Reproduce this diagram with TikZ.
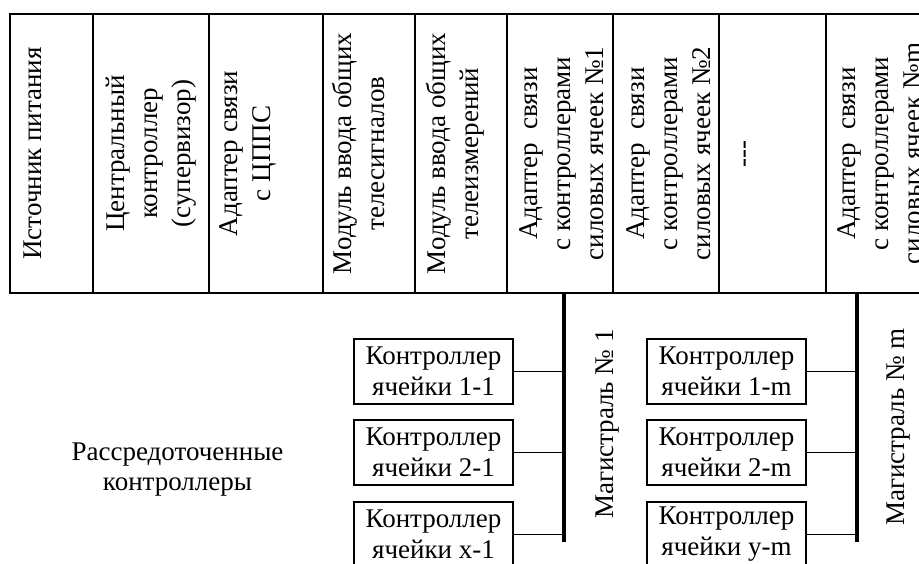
\documentclass[tikz,border=0pt]{standalone}
\usepackage{fontspec}
\setmainfont{Liberation Serif}
\begin{document}
\begin{tikzpicture}[x=1pt,y=-1pt,
  cell/.style={draw,line width=1.2pt,minimum height=279pt,inner sep=0pt},
  coltext/.style={rotate=90,anchor=north,inner sep=0pt,align=center,font=\fontsize{27}{33}\selectfont},
  ctrl/.style={draw,line width=1.2pt,minimum width=159pt,minimum height=65pt,inner sep=0pt,align=center,font=\fontsize{27}{31}\selectfont},
  bus/.style={line width=4pt},
  link/.style={line width=1.2pt},
  lbl/.style={inner sep=0pt,align=center,font=\fontsize{27}{30}\selectfont}]
\useasboundingbox (0,0) rectangle (919,563);
\clip (0,0) rectangle (919,563);
% table cells
\node[cell,minimum width=83pt]  (c1) at (51.5,153.5) {};
\node[cell,minimum width=116pt] (c2) at (151,153.5) {};
\node[cell,minimum width=114pt] (c3) at (266,153.5) {};
\node[cell,minimum width=92pt]  (c4) at (369,153.5) {};
\node[cell,minimum width=92pt]  (c5) at (461,153.5) {};
\node[cell,minimum width=106pt] (c6) at (560,153.5) {};
\node[cell,minimum width=106pt] (c7) at (666,153.5) {};
\node[cell,minimum width=107pt] (c8) at (772.5,153.5) {};
\node[cell,minimum width=106pt] (c9) at (879,153.5) {};
% column texts
\node[coltext] (t1) at ([xshift=14pt]c1.west) {Источник питания};
\node[coltext] (t2) at ([xshift=13pt]c2.west) {Центральный\\контроллер\\(супервизор)};
\node[coltext] (t3) at ([xshift=11pt]c3.west) {Адаптер связи\\с ЦППС};
\node[coltext] (t4) at ([xshift=10pt]c4.west) {Модуль ввода общих\\телесигналов};
\node[coltext] (t5) at ([xshift=12pt]c5.west) {Модуль ввода общих\\телеизмерений};
\node[coltext] (t6) at ([xshift=13pt]c6.west) {Адаптер\ \ связи\\с контроллерами\\силовых ячеек №1};
\node[coltext] (t7) at ([xshift=14pt]c7.west) {Адаптер\ \ связи\\с контроллерами\\силовых ячеек №2};
\node[rotate=90,anchor=base,inner sep=0pt,font=\fontsize{27}{33}\selectfont] (t8) at (751,154) {-{}-{}-};
\node[coltext] (t9) at ([xshift=12pt]c9.west) {Адаптер\ \ связи\\с контроллерами\\силовых ячеек №m};
% buses
\coordinate (b1t) at (564,293);
\coordinate (b1b) at (564,542);
\coordinate (bmt) at (857,293);
\coordinate (bmb) at (857,542);
\draw[bus] (b1t) -- (b1b);
\draw[bus] (bmt) -- (bmb);
% controllers group 1
\node[ctrl] (k11) at (433.5,371.5) {Контроллер\\ячейки 1-1};
\node[ctrl] (k21) at (433.5,452.5) {Контроллер\\ячейки 2-1};
\node[ctrl] (kx1) at (433.5,534.5) {Контроллер\\ячейки x-1};
% controllers group m
\node[ctrl] (k1m) at (726.5,371.5) {Контроллер\\ячейки 1-m};
\node[ctrl] (k2m) at (726.5,452.5) {Контроллер\\ячейки 2-m};
\node[ctrl] (kym) at (726.5,534.5) {Контроллер\\ячейки y-m};
% links
\draw[link] (k11.east) -- (k11.east -| b1t);
\draw[link] (k21.east) -- (k21.east -| b1t);
\draw[link] (kx1.east) -- (kx1.east -| b1t);
\draw[link] (k1m.east) -- (k1m.east -| bmt);
\draw[link] (k2m.east) -- (k2m.east -| bmt);
\draw[link] (kym.east) -- (kym.east -| bmt);
% labels
\node[lbl,rotate=90,anchor=north] (m1) at (595,424) {Магистраль № 1};
\node[lbl,rotate=90,anchor=north] (mm) at (887,427) {Магистраль № m};
\node[lbl] (rc) at (177.5,470) {Рассредоточенные\\контроллеры};
\end{tikzpicture}
\end{document}
